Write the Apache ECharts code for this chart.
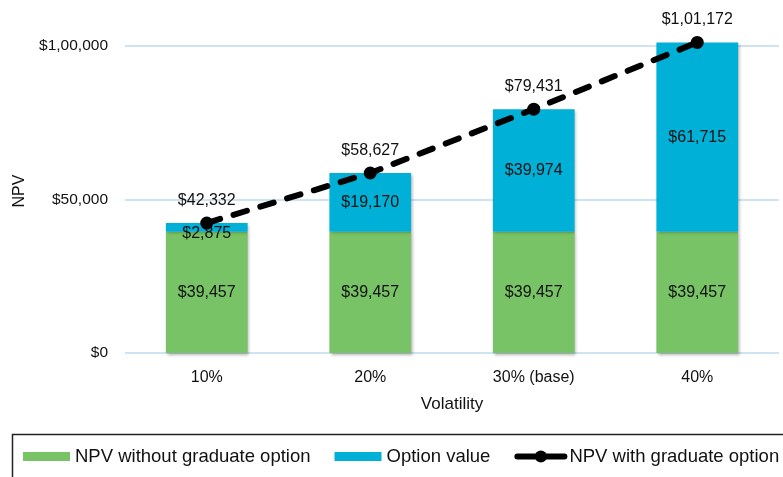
<!DOCTYPE html>
<html>
<head>
<meta charset="utf-8">
<script src="https://cdn.jsdelivr.net/npm/echarts@6/dist/echarts.min.js"></script>
<style>
html,body{margin:0;padding:0;background:#fff;}
#chart{width:783px;height:477px;}
</style>
</head>
<body>
<div id="chart"></div>
<script>
// ---- data ----
var categories = ['10%', '20%', '30% (base)', '40%'];
var npvWithout = [39457, 39457, 39457, 39457];
var optionValue = [2875, 19170, 39974, 61715];
var npvWith = [42332, 58627, 79431, 101172];
var yTicks = [0, 50000, 100000];
var seriesNames = ['NPV without graduate option', 'Option value', 'NPV with graduate option'];

function inr(v) {
  var s = String(Math.round(v));
  if (s.length <= 3) return '$' + s;
  var last3 = s.slice(-3);
  var rest = s.slice(0, -3).replace(/\B(?=(\d{2})+(?!\d))/g, ',');
  return '$' + rest + ',' + last3;
}

var FONT = "'Liberation Sans', Arial, Helvetica, sans-serif";
var TXT = '#111';
var chart = echarts.init(document.getElementById('chart'), null, {renderer: 'canvas'});

var barShadow = {shadowColor: 'rgba(0,0,0,0.3)', shadowBlur: 3, shadowOffsetX: 1.5, shadowOffsetY: 1.5};
var rectIcon = 'path://M0,0H47V9H0Z';

chart.setOption({
  animation: false,
  backgroundColor: '#fff',
  textStyle: {fontFamily: FONT, color: TXT},
  grid: {left: 125, right: 4, top: 46, bottom: 124, containLabel: false},
  graphic: [{
    type: 'rect', silent: true,
    shape: {x: 12.5, y: 434.5, width: 800, height: 80},
    style: {fill: 'none', stroke: '#222', lineWidth: 1.5}
  }],
  legend: {
    left: 23, top: 447, padding: 0, width: 1200,
    itemWidth: 47, itemHeight: 15, itemGap: 24,
    textStyle: {fontFamily: FONT, fontSize: 18.5, color: TXT},
    data: [
      {name: seriesNames[0], icon: rectIcon},
      {name: seriesNames[1], icon: rectIcon},
      {name: seriesNames[2], lineStyle: {width: 6, type: 'solid', cap: 'round'}}
    ]
  },
  xAxis: {
    type: 'category',
    data: categories,
    name: 'Volatility',
    nameLocation: 'middle',
    nameGap: 43,
    nameTextStyle: {fontFamily: FONT, fontSize: 17, color: TXT},
    axisLine: {show: false},
    axisTick: {show: false},
    axisLabel: {margin: 17, fontFamily: FONT, fontSize: 16, color: TXT}
  },
  yAxis: {
    type: 'value',
    min: yTicks[0], max: yTicks[yTicks.length - 1], interval: yTicks[1] - yTicks[0],
    name: 'NPV',
    nameLocation: 'middle',
    nameRotate: 90,
    nameGap: 97,
    nameTextStyle: {fontFamily: FONT, fontSize: 16, color: TXT, padding: [0, 0, 0, 17]},
    axisLine: {show: false},
    axisTick: {show: false},
    axisLabel: {margin: 17, fontFamily: FONT, fontSize: 15.5, color: TXT, formatter: inr},
    splitLine: {lineStyle: {color: '#cfe4f3', width: 2}}
  },
  series: [
    {
      name: seriesNames[0], type: 'bar', stack: 'npv', barWidth: '50%', clip: false,
      data: npvWithout,
      itemStyle: Object.assign({color: '#78c365'}, barShadow),
      label: {show: true, position: 'inside', fontFamily: FONT, fontSize: 16, color: TXT,
        formatter: function (p) { return inr(p.value); }}
    },
    {
      name: seriesNames[1], type: 'bar', stack: 'npv', barWidth: '50%', clip: false,
      data: optionValue.map(function (v) {
        return v < 8000 ? {value: v, label: {offset: [0, 6]}} : v;
      }),
      itemStyle: Object.assign({color: '#00b0d6'}, barShadow),
      label: {show: true, position: 'inside', fontFamily: FONT, fontSize: 16, color: TXT,
        formatter: function (p) { return inr(p.value); }}
    },
    {
      name: seriesNames[2], type: 'line', clip: false, z: 10,
      data: npvWith,
      symbol: 'circle', symbolSize: 13,
      itemStyle: {color: '#000'},
      lineStyle: {color: '#000', width: 6, type: [14, 14], cap: 'round'},
      label: {show: true, position: 'top', distance: 8, fontFamily: FONT, fontSize: 16, color: TXT,
        formatter: function (p) { return inr(p.value); }}
    }
  ]
});
</script>
</body>
</html>
